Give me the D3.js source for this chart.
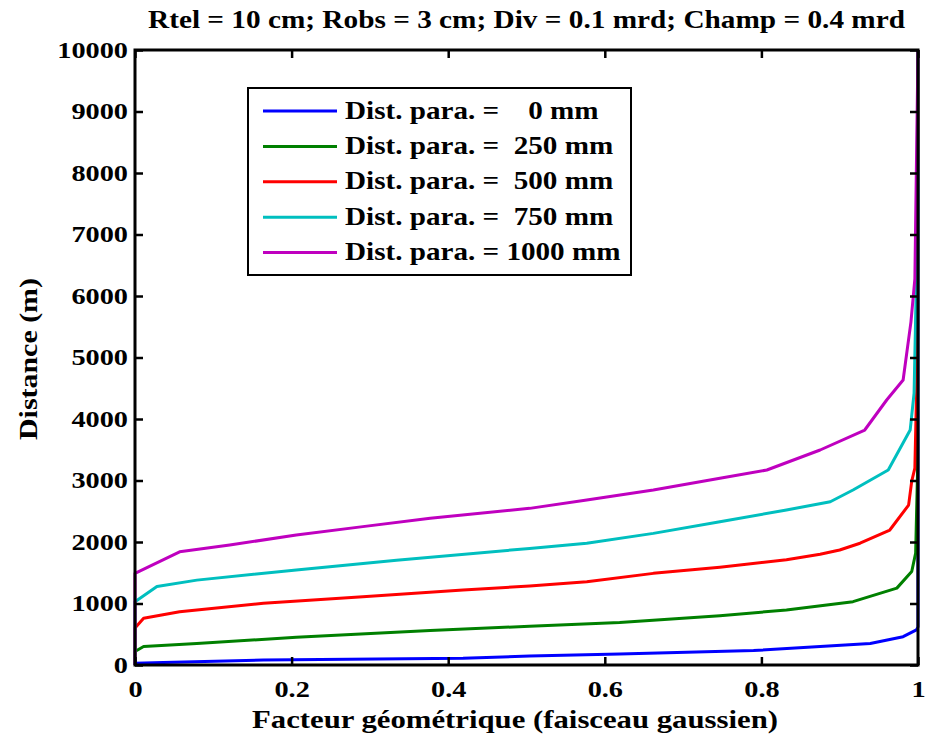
<!DOCTYPE html>
<html><head><meta charset="utf-8">
<script src="https://cdn.jsdelivr.net/npm/d3@7"></script>
<style>
body{margin:0;background:#fff}
svg text{font-family:"Liberation Serif","Times New Roman",serif;font-weight:bold;fill:#000}
</style>
</head><body>
<svg id="c" width="935" height="735"></svg>
<script>
// ---- data ----
const titleText = "Rtel = 10 cm; Robs = 3 cm; Div = 0.1 mrd; Champ = 0.4 mrd";
const xLabel = "Facteur géométrique (faisceau gaussien)";
const yLabel = "Distance (m)";
const seriesNames = ["Dist. para. =    0 mm","Dist. para. =  250 mm","Dist. para. =  500 mm","Dist. para. =  750 mm","Dist. para. = 1000 mm"];
const seriesColors = ["#0000ff","#008000","#ff0000","#00bfbf","#bf00bf"];
const xTickValues = [0,0.2,0.4,0.6,0.8,1];
const xTickLabels = ["0","0.2","0.4","0.6","0.8","1"];
const yTickValues = [0,1000,2000,3000,4000,5000,6000,7000,8000,9000,10000];

const fg0   = [0, 0, 0.036, 0.164, 0.419, 0.504, 0.619, 0.79, 0.875, 0.939, 0.981, 0.998, 1, 1];
const dist0 = [0, 30, 40, 80, 110, 145, 180, 235, 300, 350, 460, 570, 620, 10000];

const fg250   = [0, 0, 0.011, 0.079, 0.206, 0.377, 0.504, 0.619, 0.747, 0.832, 0.917, 0.973, 0.992, 0.997, 0.9995, 1];
const dist250 = [0, 220, 300, 350, 450, 560, 630, 690, 800, 895, 1030, 1250, 1520, 1820, 3200, 10000];

const fg500   = [0, 0, 0.011, 0.057, 0.164, 0.291, 0.419, 0.504, 0.577, 0.662, 0.747, 0.832, 0.875, 0.9, 0.926, 0.964, 0.988, 0.992, 0.996, 0.9985, 1];
const dist500 = [0, 600, 760, 865, 1005, 1110, 1220, 1285, 1355, 1490, 1590, 1710, 1800, 1870, 1980, 2195, 2600, 2990, 3200, 4630, 10000];

const fg750   = [0, 0, 0.028, 0.079, 0.206, 0.334, 0.504, 0.577, 0.662, 0.747, 0.832, 0.888, 0.917, 0.962, 0.99, 0.995, 0.998, 1];
const dist750 = [0, 1030, 1275, 1380, 1545, 1705, 1895, 1980, 2140, 2330, 2520, 2655, 2845, 3170, 3820, 4420, 6280, 10000];

const fg1000   = [0, 0, 0.057, 0.121, 0.206, 0.291, 0.377, 0.504, 0.577, 0.662, 0.747, 0.807, 0.875, 0.932, 0.96, 0.981, 0.991, 0.996, 1];
const dist1000 = [0, 1490, 1840, 1950, 2115, 2250, 2385, 2547, 2683, 2846, 3035, 3171, 3496, 3821, 4309, 4634, 5580, 6280, 10000];

const seriesX = [fg0, fg250, fg500, fg750, fg1000];
const seriesY = [dist0, dist250, dist500, dist750, dist1000];

// ---- layout ----
const L = 135, R = 918, T = 50, B = 665;
const svg = d3.select("#c");
const x = d3.scaleLinear().domain([0,1]).range([L,R]);
const y = d3.scaleLinear().domain([0,10000]).range([B,T]);

function stretch(sel, f){
  sel.each(function(){
    const l = this.getComputedTextLength();
    this.setAttribute("textLength", l*f);
    this.setAttribute("lengthAdjust","spacingAndGlyphs");
  });
}

// curves
const line = d3.line().x(d=>x(d[0])).y(d=>y(d[1]));
seriesX.forEach((xs,i)=>{
  const pts = xs.map((v,j)=>[v, seriesY[i][j]]);
  svg.append("path").attr("d", line(pts)).attr("fill","none")
    .attr("stroke", seriesColors[i]).attr("stroke-width",3).attr("stroke-linejoin","round");
});

// axes
const tk = 8;
const gx = svg.append("g").attr("transform",`translate(0,${B})`)
  .call(d3.axisBottom(x).tickValues(xTickValues).tickSize(-tk).tickSizeOuter(0).tickPadding(16)
    .tickFormat((d,i)=>xTickLabels[i]));
const gy = svg.append("g").attr("transform",`translate(${L},0)`)
  .call(d3.axisLeft(y).tickValues(yTickValues).tickSize(-tk).tickSizeOuter(0).tickPadding(7)
    .tickFormat(d=>String(d)));
const gx2 = svg.append("g").attr("transform",`translate(0,${T})`)
  .call(d3.axisTop(x).tickValues(xTickValues).tickSize(-tk).tickSizeOuter(0).tickFormat(""));
const gy2 = svg.append("g").attr("transform",`translate(${R},0)`)
  .call(d3.axisRight(y).tickValues(yTickValues).tickSize(-tk).tickSizeOuter(0).tickFormat(""));
[gx,gy,gx2,gy2].forEach(g=>{
  g.select(".domain").remove();
  g.selectAll("line").attr("stroke","#000").attr("stroke-width",2.5);
  g.selectAll("text").attr("font-size",23).attr("font-family",null).attr("fill","#000");
});
stretch(gx.selectAll("text"),1.23);
stretch(gy.selectAll("text"),1.23);

svg.append("rect").attr("x",L).attr("y",T).attr("width",R-L).attr("height",B-T)
  .attr("fill","none").attr("stroke","#000").attr("stroke-width",3);

// title & labels
const tt = svg.append("text").attr("x",(L+R)/2).attr("y",28).attr("text-anchor","middle")
  .attr("font-size",25).text(titleText);
tt.attr("textLength",757).attr("lengthAdjust","spacingAndGlyphs");
const xl = svg.append("text").attr("x",515).attr("y",728).attr("text-anchor","middle")
  .attr("font-size",25).text(xLabel);
xl.attr("textLength",526).attr("lengthAdjust","spacingAndGlyphs");
const yl = svg.append("text").attr("transform","translate(37,359) rotate(-90)").attr("text-anchor","middle")
  .attr("font-size",25).text(yLabel);
yl.attr("textLength",162).attr("lengthAdjust","spacingAndGlyphs");

// legend
const lg = svg.append("g");
lg.append("rect").attr("x",248).attr("y",88).attr("width",383).attr("height",187)
  .attr("fill","#fff").attr("stroke","#000").attr("stroke-width",2);
seriesNames.forEach((n,i)=>{
  const cy = 111 + i*35.4;
  lg.append("line").attr("x1",263).attr("x2",337).attr("y1",cy).attr("y2",cy)
    .attr("stroke",seriesColors[i]).attr("stroke-width",3);
  const t = lg.append("text").attr("x",345).attr("y",cy+7.5).attr("font-size",25)
    .attr("xml:space","preserve").style("white-space","pre").text(n);
  stretch(t,1.165);
});
</script>
</body></html>
